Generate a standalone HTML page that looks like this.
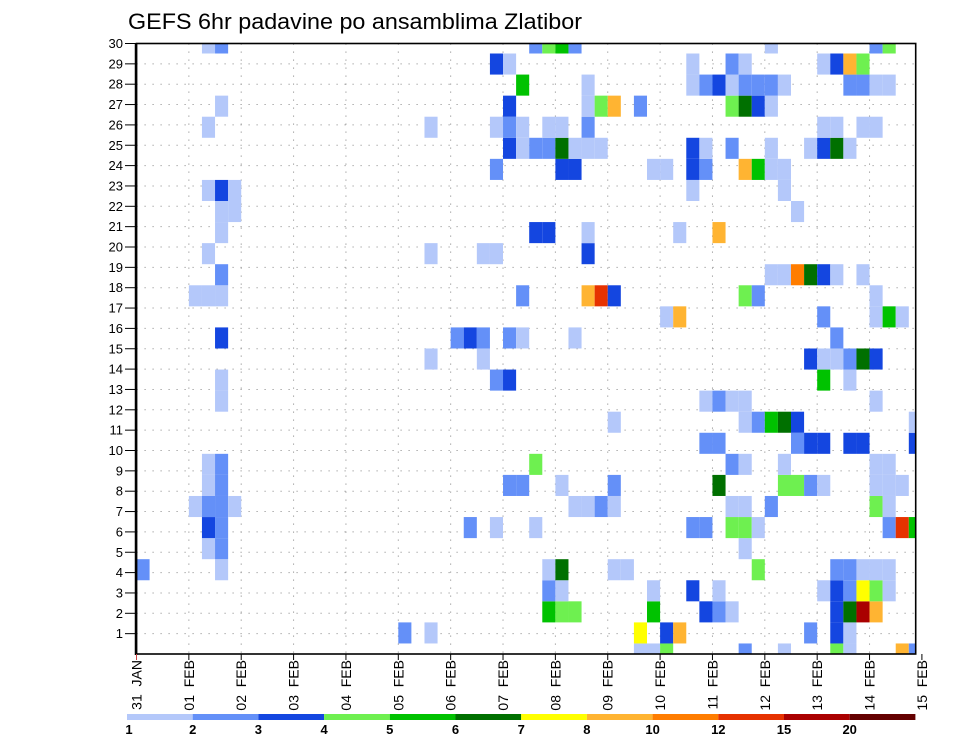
<!DOCTYPE html>
<html><head><meta charset="utf-8"><style>
html,body{margin:0;padding:0;background:#fff;}
svg{display:block;font-family:"Liberation Sans",sans-serif;}
</style></head><body>
<svg id="chart" width="960" height="742" viewBox="0 0 960 742" xmlns="http://www.w3.org/2000/svg">
<text x="128" y="29" font-size="22" textLength="454" lengthAdjust="spacingAndGlyphs" fill="#000">GEFS 6hr padavine po ansamblima Zlatibor</text>
<g id="grid"></g>
<g id="cells"></g>
<g id="axes"></g>
<g id="legend"></g>
</svg>
<script>
const dayLabels = ["31 JAN","01 FEB","02 FEB","03 FEB","04 FEB","05 FEB","06 FEB","07 FEB","08 FEB","09 FEB","10 FEB","11 FEB","12 FEB","13 FEB","14 FEB","15 FEB"];
const memberLabels = [1,2,3,4,5,6,7,8,9,10,11,12,13,14,15,16,17,18,19,20,21,22,23,24,25,26,27,28,29,30];
const legendLabels = ["1","2","3","4","5","6","7","8","10","12","15","20"];
const levelColors = ["#b4c8fa","#6490f8","#1446e0","#6ef050","#00c200","#007000","#ffff00","#ffb432","#ff7d00","#e63200","#aa0000","#640000"];
// precipitation level class per member row (row 0 = bottom), "column:level" (level 1..12 as 1-9,a,b,c)
const precipLevels = [
"38:1 39:1 40:4 46:2 49:1 53:4 54:1 58:8 59:2",
"20:2 22:1 38:7 40:3 41:8 51:2 53:3 54:1",
"31:5 32:4 33:4 39:5 43:3 44:2 45:1 53:3 54:6 55:b 56:8",
"31:2 32:1 39:1 42:3 44:1 52:1 53:3 54:2 55:7 56:4 57:1",
"0:2 6:1 31:1 32:6 36:1 37:1 47:4 53:2 54:2 55:1 56:1 57:1",
"5:1 6:2 46:1",
"5:3 6:2 25:2 27:1 30:1 42:2 43:2 45:4 46:4 47:1 57:2 58:a 59:5",
"4:1 5:2 6:2 7:1 33:1 34:1 35:2 36:1 45:1 46:1 48:2 56:4 57:1",
"5:1 6:2 28:2 29:2 32:1 36:2 44:6 49:4 50:4 51:2 52:1 56:1 57:1 58:1",
"5:1 6:2 30:4 45:2 46:1 49:1 56:1 57:1",
"43:2 44:2 50:2 51:3 52:3 54:3 55:3 59:3",
"36:1 46:1 47:2 48:5 49:6 50:3 59:1",
"6:1 43:1 44:2 45:1 46:1 56:1",
"6:1 27:2 28:3 52:5 54:1",
"22:1 26:1 51:3 52:1 53:1 54:2 55:6 56:3",
"6:3 24:2 25:3 26:2 28:2 29:1 33:1 53:2",
"40:1 41:8 52:2 56:1 57:5 58:1",
"4:1 5:1 6:1 29:2 34:8 35:a 36:3 46:4 47:2 56:1",
"6:2 48:1 49:1 50:9 51:6 52:3 53:1 55:1",
"5:1 22:1 26:1 27:1 34:3",
"6:1 30:3 31:3 34:1 41:1 44:8",
"6:1 7:1 50:1",
"5:1 6:3 7:1 42:1 49:1",
"27:2 32:3 33:3 39:1 40:1 42:3 43:2 46:8 47:5 48:1 49:1",
"28:3 29:1 30:2 31:2 32:6 33:1 34:1 35:1 42:3 43:1 45:2 48:1 51:1 52:3 53:6 54:1",
"5:1 22:1 27:1 28:2 29:1 31:1 32:1 34:2 52:1 53:1 55:1 56:1",
"6:1 28:3 34:1 35:4 36:8 38:2 45:4 46:6 47:3 48:1",
"29:5 34:1 42:1 43:2 44:3 45:1 46:2 47:2 48:2 49:1 54:2 55:2 56:1 57:1",
"27:3 28:1 42:1 45:2 46:1 52:1 53:3 54:8 55:4",
"5:1 6:2 30:2 31:4 32:5 33:2 48:1 56:2 57:4"
];
const NS="http://www.w3.org/2000/svg";
const X0=136.5, XR=915.7, YT=43.5, YB=654;
const colW=13.09, dayW=52.36, rowH=21.07, lblH=20.35;
function xCol(c){return X0+c*colW;}
function xDay(d){return X0+d*dayW;}
function yRow(j){return YB-j*rowH;}
function yLbl(r){return YB-r*lblH;}
function mk(tag,attrs,parent){const e=document.createElementNS(NS,tag);for(const k in attrs)e.setAttribute(k,attrs[k]);parent.appendChild(e);return e;}
const grid=document.getElementById('grid'),cells=document.getElementById('cells'),axes=document.getElementById('axes'),legend=document.getElementById('legend');
// grid
memberLabels.forEach(r=>{if(r<30){const l=mk('line',{x1:X0,x2:XR,y1:yLbl(r),y2:yLbl(r),stroke:'#999','stroke-width':1,'stroke-dasharray':'1.2 6.8'},grid);

}});
dayLabels.forEach((d,i)=>{if(i>0&&i<15){const l=mk('line',{x1:xDay(i),x2:xDay(i),y1:YT,y2:YB,stroke:'#999','stroke-width':1,'stroke-dasharray':'1.2 6.8'},grid);

}});
// cells
precipLevels.forEach((rowStr,j)=>{
  rowStr.split(' ').filter(s=>s).forEach(tok=>{
    const [c,lv]=tok.split(':');const col=+c;const lev=parseInt(lv,16);
    let x1=xCol(col),x2=Math.min(XR,xCol(col+1));
    let y1=Math.max(YT,yRow(j)-rowH/2),y2=Math.min(YB,yRow(j)+rowH/2);
    const r=mk('rect',{x:x1,y:y1,width:x2-x1,height:y2-y1,fill:levelColors[lev-1]},cells);
    
    
  });
});
// frame
const fr=mk('rect',{x:X0,y:YT,width:XR-X0,height:YB-YT,fill:'none',stroke:'#000','stroke-width':1.6},axes);


const la=mk('line',{x1:X0-0.5,x2:X0-0.5,y1:YT,y2:YB+1,stroke:'#000','stroke-width':2.5},axes);


memberLabels.forEach(r=>{
  const t=mk('line',{x1:125,x2:X0,y1:yLbl(r),y2:yLbl(r),stroke:'#000','stroke-width':1},axes);
  
  
  const tx=mk('text',{x:123,y:yLbl(r)+4.5,'font-size':13,'text-anchor':'end',fill:'#000'},axes);
  tx.textContent=r;
  
  
});
dayLabels.forEach((d,i)=>{
  const x=xDay(i);
  const t=mk('line',{x1:x,x2:x,y1:YB,y2:YB+6,stroke:i===0?'#c44':'#000','stroke-width':1},axes);
  
  
  const tx=mk('text',{x:0,y:0,'font-size':14,'text-anchor':'end',fill:'#000',transform:`translate(${x+5},660) rotate(-90)`},axes);
  tx.textContent=d.replace(' ','\u00a0\u00a0');
  
  
});
// legend
const LX=127, LW=65.7;
levelColors.forEach((c,i)=>{
  const r=mk('rect',{x:LX+i*LW,y:714,width:LW,height:6,fill:c},legend);
  
  
});
legendLabels.forEach((s,i)=>{
  const t=mk('text',{x:LX+i*LW+(i===0?2:0),y:734,'font-size':13,'font-weight':'bold','text-anchor':'middle',fill:'#000'},legend);
  t.textContent=s;
  
  
});
</script>
</body></html>
